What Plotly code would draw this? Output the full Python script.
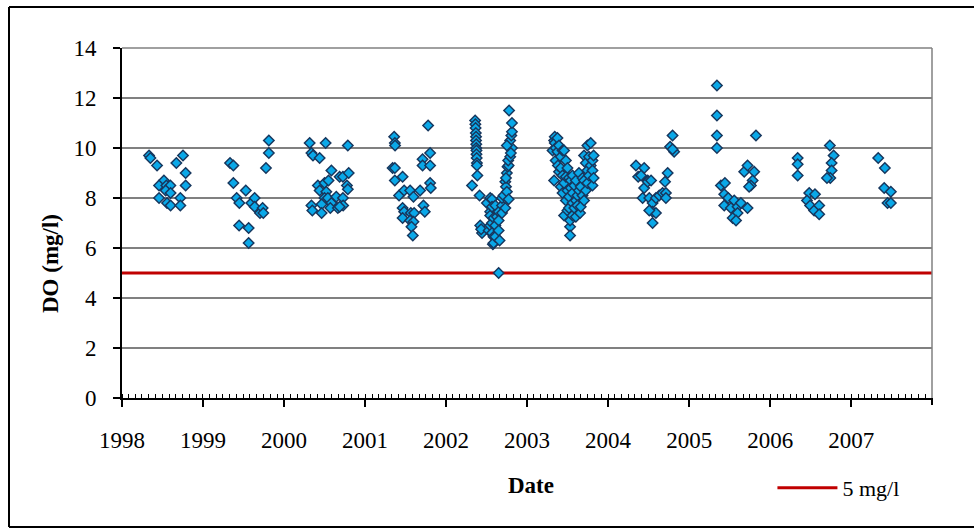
import plotly.graph_objects as go

# ---------------- data ----------------
dates_1998 = ["1998-05-03","1998-05-09","1998-06-08","1998-07-09","1998-06-17","1998-07-20","1998-08-07",
              "1998-07-17","1998-08-08","1998-06-17","1998-07-23","1998-08-08","1998-09-03","1998-10-03",
              "1998-10-15","1998-10-15","1998-09-21","1998-09-21"]
do_1998 = [9.7,9.6,9.3,8.7,8.5,8.5,8.5,8.3,8.2,8.0,7.8,7.7,9.4,9.7,9.0,8.5,8.0,7.7]

dates_1999 = ["1999-05-03","1999-05-18","1999-05-18","1999-06-02","1999-06-14","1999-06-13","1999-07-13",
              "1999-07-26","1999-07-26","1999-08-07","1999-08-22","1999-08-22","1999-09-15","1999-09-27",
              "1999-09-30","1999-10-12","1999-10-25","1999-10-25"]
do_1999 = [9.4,9.3,8.6,8.0,7.8,6.9,8.3,6.8,6.2,7.8,8.0,7.65,7.4,7.6,7.4,9.2,9.8,10.3]

dates_2000 = ["2000-04-26","2000-05-04","2000-05-11","2000-06-10","2000-07-07","2000-08-02","2000-06-02",
              "2000-06-10","2000-07-02","2000-07-20","2000-07-10","2000-07-02","2000-07-17","2000-08-02",
              "2000-06-19","2000-05-04","2000-05-08","2000-06-19","2000-07-28","2000-08-24","2000-08-31",
              "2000-09-08","2000-09-23","2000-09-23","2000-09-24","2000-10-11","2000-10-15","2000-10-19",
              "2000-10-15","2000-09-08"]
do_2000 = [10.2,9.8,9.7,9.6,10.2,9.1,8.5,8.3,8.6,8.7,8.25,8.0,8.0,7.8,7.75,7.7,7.5,7.4,7.6,8.05,7.6,
           8.85,8.85,8.0,7.7,8.5,8.35,9.0,10.1,7.65]

dates_2001 = ["2001-05-12","2001-05-15","2001-05-16","2001-05-05","2001-05-15","2001-05-15","2001-06-19",
              "2001-06-03","2001-06-26","2001-07-23","2001-08-07","2001-09-06","2001-06-19","2001-06-26",
              "2001-06-19","2001-07-26","2001-08-10","2001-07-23","2001-08-07","2001-07-29","2001-08-04",
              "2001-09-21","2001-09-27","2001-09-17","2001-09-17","2001-10-21","2001-10-21","2001-10-12",
              "2001-10-21","2001-10-24"]
do_2001 = [10.45,10.2,10.1,9.2,9.2,8.7,8.85,8.1,8.3,8.3,8.05,8.3,7.6,7.45,7.2,7.4,7.4,7.1,7.05,6.85,6.5,
           7.7,7.45,9.55,9.3,9.8,9.3,10.9,8.6,8.4]

dates_2002 = ["2002-05-12","2002-05-13","2002-05-14","2002-05-15","2002-05-16","2002-05-16","2002-05-17",
              "2002-05-17","2002-05-18","2002-05-18","2002-05-19","2002-05-20","2002-05-20","2002-05-22",
              "2002-04-28","2002-06-01","2002-06-04","2002-06-12","2002-06-08","2002-07-04","2002-07-12",
              "2002-07-19","2002-07-19","2002-07-19","2002-07-19","2002-07-27","2002-07-27","2002-07-27",
              "2002-07-27","2002-07-31","2002-08-03","2002-08-03","2002-08-03","2002-08-11","2002-08-11",
              "2002-08-11","2002-08-18","2002-08-26","2002-08-26","2002-08-26","2002-08-30","2002-08-26",
              "2002-09-10","2002-09-10","2002-09-10","2002-09-17","2002-09-25","2002-09-25","2002-09-28",
              "2002-10-02","2002-10-02","2002-10-05","2002-10-10","2002-10-10","2002-10-08","2002-10-17",
              "2002-10-25","2002-10-17","2002-10-22","2002-10-25","2002-10-25","2002-10-12","2002-10-02",
              "2002-10-20","2002-09-28"]
do_2002 = [11.1,10.95,10.8,10.6,10.45,10.3,10.15,10.0,9.9,9.75,9.6,9.4,9.3,8.9,8.5,8.1,6.9,6.6,6.75,7.8,
           6.7,8.0,7.45,6.9,7.3,7.95,7.65,7.0,6.6,6.15,7.2,6.45,6.2,7.7,6.9,6.45,7.25,7.45,7.1,6.7,6.3,
           5.0,7.7,7.4,8.0,8.1,7.6,8.65,8.45,8.25,9.0,9.25,7.95,9.3,9.5,9.65,10.0,10.3,10.5,10.65,11.0,
           11.5,10.1,9.8,8.8]

dates_2003 = ["2003-04-26","2003-05-03","2003-05-06","2003-05-06","2003-05-10","2003-05-18","2003-05-18",
              "2003-05-25","2003-05-03","2003-05-10","2003-05-25","2003-05-20","2003-06-02","2003-06-02",
              "2003-06-02","2003-06-10","2003-06-10","2003-06-10","2003-06-17","2003-06-17","2003-06-17",
              "2003-06-25","2003-06-25","2003-06-25","2003-07-02","2003-07-02","2003-07-02","2003-07-09",
              "2003-07-09","2003-07-09","2003-07-14","2003-07-14","2003-07-14","2003-07-17","2003-07-17",
              "2003-07-25","2003-07-25","2003-07-25","2003-07-25","2003-08-02","2003-08-02","2003-08-09",
              "2003-08-09","2003-08-09","2003-08-16","2003-08-16","2003-08-23","2003-08-23","2003-08-28",
              "2003-08-31","2003-08-31","2003-09-08","2003-09-08","2003-09-15","2003-09-15","2003-09-15",
              "2003-09-23","2003-09-23","2003-09-30","2003-09-30","2003-09-30","2003-10-07","2003-10-07",
              "2003-10-15","2003-10-15","2003-10-23","2003-10-23","2003-10-23","2003-10-28","2003-10-28"]
do_2003 = [9.9,10.3,10.45,10.2,10.0,10.4,9.85,10.1,8.7,9.5,9.05,9.3,9.65,8.45,9.2,9.9,8.9,8.2,9.9,7.3,
           8.6,9.5,8.85,7.9,8.3,9.2,7.5,8.05,7.6,8.8,6.85,6.5,7.1,8.7,8.4,7.8,7.3,8.2,8.9,7.6,8.5,7.25,
           7.9,8.7,8.1,7.7,9.0,8.3,7.4,8.45,7.65,8.1,8.8,8.7,9.7,7.9,9.4,8.3,9.1,10.1,8.6,9.65,8.9,10.2,
           9.3,9.5,9.1,8.5,8.8,9.7]

dates_2004 = ["2004-05-06","2004-06-12","2004-05-16","2004-05-29","2004-06-12","2004-06-28","2004-06-28",
              "2004-07-13","2004-06-05","2004-07-05","2004-07-20","2004-08-04","2004-08-19","2004-09-03",
              "2004-09-18","2004-09-18","2004-07-20","2004-08-04","2004-07-20","2004-07-05","2004-09-26",
              "2004-09-14","2004-10-07","2004-10-18","2004-10-25","2004-10-18"]
do_2004 = [9.3,9.2,8.85,8.9,8.4,8.7,8.65,8.7,8.0,8.0,7.8,8.0,8.1,8.2,8.2,8.0,7.45,7.4,7.0,7.5,9.0,8.65,
           10.05,10.5,9.85,9.95]

dates_2005 = ["2005-05-06","2005-05-06","2005-05-06","2005-05-06","2005-05-24","2005-06-11","2005-06-08",
              "2005-06-08","2005-06-26","2005-07-23","2005-07-08","2005-08-07","2005-08-07","2005-08-22",
              "2005-07-16","2005-07-31","2005-09-21","2005-09-06","2005-09-21","2005-10-21","2005-10-14",
              "2005-10-06","2005-09-28","2005-10-29"]
do_2005 = [12.5,11.3,10.5,10.0,8.5,8.6,8.15,7.7,8.0,7.9,7.6,7.65,7.4,7.8,7.2,7.1,7.6,9.05,9.3,9.05,8.7,
           8.5,8.45,10.5]

dates_2006 = ["2006-05-05","2006-05-05","2006-05-05","2006-06-26","2006-07-22","2006-06-16","2006-06-30",
              "2006-07-18","2006-08-10","2006-08-10","2006-09-27","2006-10-14","2006-10-05","2006-10-05",
              "2006-09-29","2006-09-14"]
do_2006 = [9.6,9.35,8.9,8.2,8.15,7.9,7.7,7.5,7.7,7.35,10.1,9.7,9.4,9.1,8.8,8.8]

dates_2007 = ["2007-05-03","2007-06-02","2007-05-30","2007-06-29","2007-06-14","2007-06-29"]
do_2007 = [9.6,9.2,8.4,8.25,7.8,7.8]

standard_dates = ["1998-01-01", "2007-12-31 12:00"]
standard_value = [5, 5]
standard_name = "5 mg/l"

x_range = ["1998-01-01", "2007-12-31 12:00"]
y_range = [0, 14]

all_dates = (dates_1998 + dates_1999 + dates_2000 + dates_2001 + dates_2002 + dates_2003
             + dates_2004 + dates_2005 + dates_2006 + dates_2007)
all_do = (do_1998 + do_1999 + do_2000 + do_2001 + do_2002 + do_2003
          + do_2004 + do_2005 + do_2006 + do_2007)

FONT = "Liberation Serif, Times New Roman, serif"

# figure fills the page exactly (body margin removed below)
L, T, PW, PH = 122, 48, 810, 350
W, H = 974, 529

def px(xs):   # page-pixel x -> paper
    return (xs - L) / PW

def py(ys):   # page-pixel y -> paper
    return (T + PH - ys) / PH

border = dict(color="black", width=2)

fig = go.Figure()
fig.add_trace(go.Scatter(
    x=standard_dates, y=standard_value, mode="lines", name=standard_name,
    line=dict(color="#C00000", width=3), showlegend=True, hoverinfo="skip"))
fig.add_trace(go.Scatter(
    x=all_dates, y=all_do, mode="markers", name="DO", showlegend=False,
    marker=dict(symbol="diamond", size=8, color="#0AA8E8",
                line=dict(color="#17375E", width=1.5))))

fig.update_layout(
    width=W, height=H,
    margin=dict(l=L, r=W - L - PW, t=T, b=H - T - PH),
    paper_bgcolor="white", plot_bgcolor="white",
    font=dict(family=FONT, size=22, color="black"),
    showlegend=True,
    legend=dict(x=0.803, y=py(488), xanchor="left", yanchor="middle",
                font=dict(family=FONT, size=22, color="black"),
                bgcolor="rgba(0,0,0,0)", itemwidth=60),
    xaxis=dict(
        type="date", range=x_range, dtick="M12", tick0="1998-01-01", tickformat="%Y",
        showgrid=False, zeroline=False,
        showline=True, linecolor="black", linewidth=2,
        ticks="outside", ticklen=7, tickwidth=2, tickcolor="black",
        ticklabelstandoff=13,
        tickfont=dict(family=FONT, size=23, color="black"),
        minor=dict(dtick="M1", ticks="inside", ticklen=4, tickwidth=1.2, tickcolor="black", showgrid=False),
    ),
    yaxis=dict(
        range=y_range, dtick=2, tick0=0,
        showgrid=True, gridcolor="#808080", gridwidth=1.5,
        zeroline=False,
        showline=True, linecolor="black", linewidth=2,
        ticks="outside", ticklen=7, tickwidth=2, tickcolor="black",
        ticklabelstandoff=12,
        tickfont=dict(family=FONT, size=23, color="black"),
    ),
    shapes=[
        # plot area right edge and top edge (gray)
        dict(type="line", xref="paper", yref="paper", x0=1, x1=1, y0=0, y1=1,
             line=dict(color="#808080", width=1.5)),
        dict(type="line", xref="paper", yref="paper", x0=0, x1=1, y0=1, y1=1,
             line=dict(color="#808080", width=1.5)),
        # closing major tick at the right end of the date axis
        dict(type="line", xref="paper", yref="paper", x0=1, x1=1, y0=0, y1=-7 / PH,
             line=dict(color="black", width=2)),
        # outer chart border: left, top, bottom (right side runs off the page)
        dict(type="line", xref="paper", yref="paper", x0=px(9), x1=px(9), y0=py(527), y1=py(7),
             line=border),
        dict(type="line", xref="paper", yref="paper", x0=px(9), x1=px(974), y0=py(7), y1=py(7),
             line=border),
        dict(type="line", xref="paper", yref="paper", x0=px(9), x1=px(974), y0=py(527), y1=py(527),
             line=border),
    ],
    annotations=[
        dict(text="<b>Date</b>", xref="paper", yref="paper", x=px(531),
             y=py(485), xanchor="center", yanchor="middle", showarrow=False,
             font=dict(family=FONT, size=23, color="black")),
        dict(text="<b>DO (mg/l)</b>", xref="paper", yref="paper", x=px(50),
             y=py(264), xanchor="center", yanchor="middle", showarrow=False,
             textangle=-90, font=dict(family=FONT, size=23, color="black")),
    ],
)

fig.write_html(
    "out.html",
    config={"displayModeBar": False},
    post_script="document.body.style.margin='0';document.body.style.overflow='hidden';",
)
